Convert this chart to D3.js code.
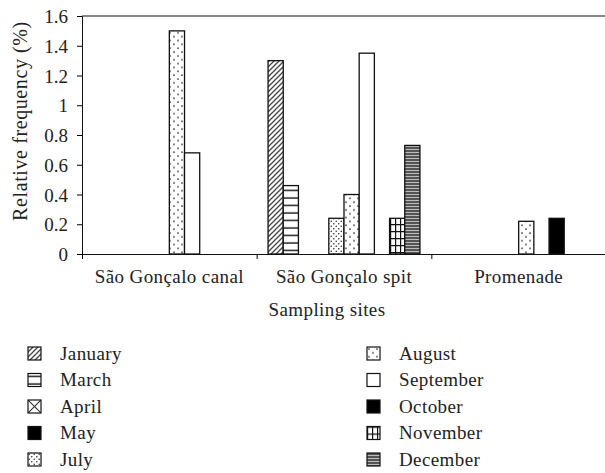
<!DOCTYPE html>
<html>
<head>
<meta charset="utf-8">
<script src="https://cdn.jsdelivr.net/npm/d3@7"></script>
<style>
  body { margin: 0; background: #fff; }
  svg text { font-family: "Liberation Serif", "Times New Roman", serif; fill: #222; }
</style>
</head>
<body>
<svg width="605" height="473"></svg>
<script>
// sampling sites on the x axis
const sites = ["São Gonçalo canal", "São Gonçalo spit", "Promenade"];
// months (series), same order as the legend
const months = ["January", "March", "April", "May", "July", "August", "September", "October", "November", "December"];
// relative frequency (%) per site, one value per month
const canal     = [0, 0, 0, 0, 0, 1.5, 0.68, 0, 0, 0];
const spit      = [1.3, 0.46, 0, 0, 0.24, 0.40, 1.35, 0, 0.24, 0.73];
const promenade = [0, 0, 0, 0, 0, 0.22, 0, 0.24, 0, 0];
const yTicks = [0, 0.2, 0.4, 0.6, 0.8, 1, 1.2, 1.4, 1.6];

const siteValues = [canal, spit, promenade];

let svg = d3.select('svg');
const plotLeft = 82, plotRight = 606, plotTop = 16, plotBottom = 254;
const fontSize = '19px', spacing = '0.4px';

// fill pattern id for each month
const fills = {
    January: 'url(#pJan)', March: 'url(#pMar)', April: 'url(#pApr)', May: '#000',
    July: 'url(#pJul)', August: 'url(#pAug)', September: '#fff', October: '#000',
    November: 'url(#pNov)', December: 'url(#pDec)'
};

/********************** PATTERNS ********************** */
const defs = svg.append('defs');
function pat(id, w, h) {
    let p = defs.append('pattern').attr('id', id)
        .attr('patternUnits', 'userSpaceOnUse').attr('width', w).attr('height', h);
    p.append('rect').attr('width', w).attr('height', h).attr('fill', '#fff');
    return p;
}
pat('pJan', 5, 5).append('path')
    .attr('d', 'M0,5 L5,0 M-1,1 L1,-1 M4,6 L6,4')
    .attr('stroke', '#444').attr('stroke-width', 1.3);
pat('pMar', 6, 7.5).append('line')
    .attr('x1', 0).attr('x2', 6).attr('y1', 3).attr('y2', 3)
    .attr('stroke', '#111').attr('stroke-width', 1.4);
pat('pApr', 13, 13).append('path')
    .attr('d', 'M0,0 L13,13 M13,0 L0,13')
    .attr('stroke', '#333').attr('stroke-width', 1.1);
let jul = pat('pJul', 5, 5);
[[1.25, 1.25], [3.75, 3.75]].forEach(c => jul.append('circle')
    .attr('cx', c[0]).attr('cy', c[1]).attr('r', 0.8).attr('fill', '#333'));
let aug = pat('pAug', 8, 7.7);
[[2, 2], [6, 5.85]].forEach(c => aug.append('circle')
    .attr('cx', c[0]).attr('cy', c[1]).attr('r', 0.9).attr('fill', '#333'));
let nov = pat('pNov', 5, 7);
nov.append('path').attr('d', 'M0.5,0 V7 M0,0.5 H5')
    .attr('stroke', '#111').attr('stroke-width', 1.4);
let dec = defs.append('pattern').attr('id', 'pDec')
    .attr('patternUnits', 'userSpaceOnUse').attr('width', 4).attr('height', 3);
dec.append('rect').attr('width', 4).attr('height', 3).attr('fill', '#bbb');
dec.append('line').attr('x1', 0).attr('x2', 4).attr('y1', 1).attr('y2', 1)
    .attr('stroke', '#333').attr('stroke-width', 1.5);

/********************** SCALES ********************** */
let xScale = d3.scaleBand().domain(sites).range([plotLeft, plotRight]);
let xInner = d3.scaleBand().domain(months)
    .range([0, xScale.bandwidth()])
    .paddingInner(0).paddingOuter(0.75);
let yScale = d3.scaleLinear().domain([0, 1.6]).range([plotBottom, plotTop]);

// bars, skip empty months
let bars = [];
siteValues.forEach((vals, i) => vals.forEach((v, j) => {
    if (v > 0) bars.push({ site: sites[i], month: months[j], value: v });
}));

svg.selectAll('rect.bar')
    .data(bars)
    .enter()
    .append('rect')
        .attr('class', 'bar')
        .attr('x', d => xScale(d.site) + xInner(d.month))
        .attr('y', d => yScale(d.value))
        .attr('width', xInner.bandwidth())
        .attr('height', d => yScale(0) - yScale(d.value))
        .attr('fill', d => fills[d.month])
        .attr('stroke', '#111')
        .attr('stroke-width', 1.3);

/********************** AXES ********************** */
let yAxis = d3.axisLeft(yScale).tickValues(yTicks).tickFormat(d3.format('')).tickSizeOuter(0).tickSize(5);
svg.append('g').attr('transform', `translate(${plotLeft},0)`).call(yAxis)
    .call(g => g.selectAll('text').style('font-size', fontSize).attr('x', -14).attr('dy', '0.35em'))
    .call(g => g.select('.domain').attr('stroke', '#111'));

let xAxis = d3.axisBottom(d3.scaleLinear().domain([0, 3]).range([plotLeft, plotRight]))
    .tickValues([0, 1, 2]).tickSize(5).tickSizeOuter(0).tickFormat('');
svg.append('g').attr('transform', `translate(0,${plotBottom})`).call(xAxis)
    .call(g => g.select('.domain').attr('stroke', '#111'));

// top border of plot area
svg.append('line').attr('x1', plotLeft).attr('x2', plotRight).attr('y1', plotTop).attr('y2', plotTop)
    .attr('stroke', '#111');

svg.selectAll('text.site')
    .data(sites)
    .enter()
    .append('text')
        .attr('class', 'site')
        .attr('x', d => xScale(d) + xScale.bandwidth() / 2)
        .attr('y', 283)
        .attr('text-anchor', 'middle')
        .style('font-size', fontSize).style('letter-spacing', spacing)
        .text(d => d);

svg.append('text').attr('x', 327).attr('y', 316).attr('text-anchor', 'middle')
    .style('font-size', fontSize).style('letter-spacing', spacing).text('Sampling sites');

svg.append('text').attr('transform', 'translate(27,121) rotate(-90)')
    .attr('text-anchor', 'middle').style('font-size', '20px').style('letter-spacing', '0.6px')
    .text('Relative frequency (%)');

/********************** LEGEND ********************** */
let legend = svg.selectAll('g.leg')
    .data(months)
    .enter()
    .append('g')
        .attr('class', 'leg')
        .attr('transform', (d, i) => `translate(${i < 5 ? 28 : 367},${347 + (i % 5) * 26.5})`);
legend.append('rect')
    .attr('width', 13).attr('height', 13)
    .attr('fill', d => fills[d]).attr('stroke', '#111').attr('stroke-width', 1.2);
legend.append('text')
    .attr('x', 32).attr('y', 12.5)
    .style('font-size', fontSize).style('letter-spacing', spacing)
    .text(d => d);
</script>
</body>
</html>
